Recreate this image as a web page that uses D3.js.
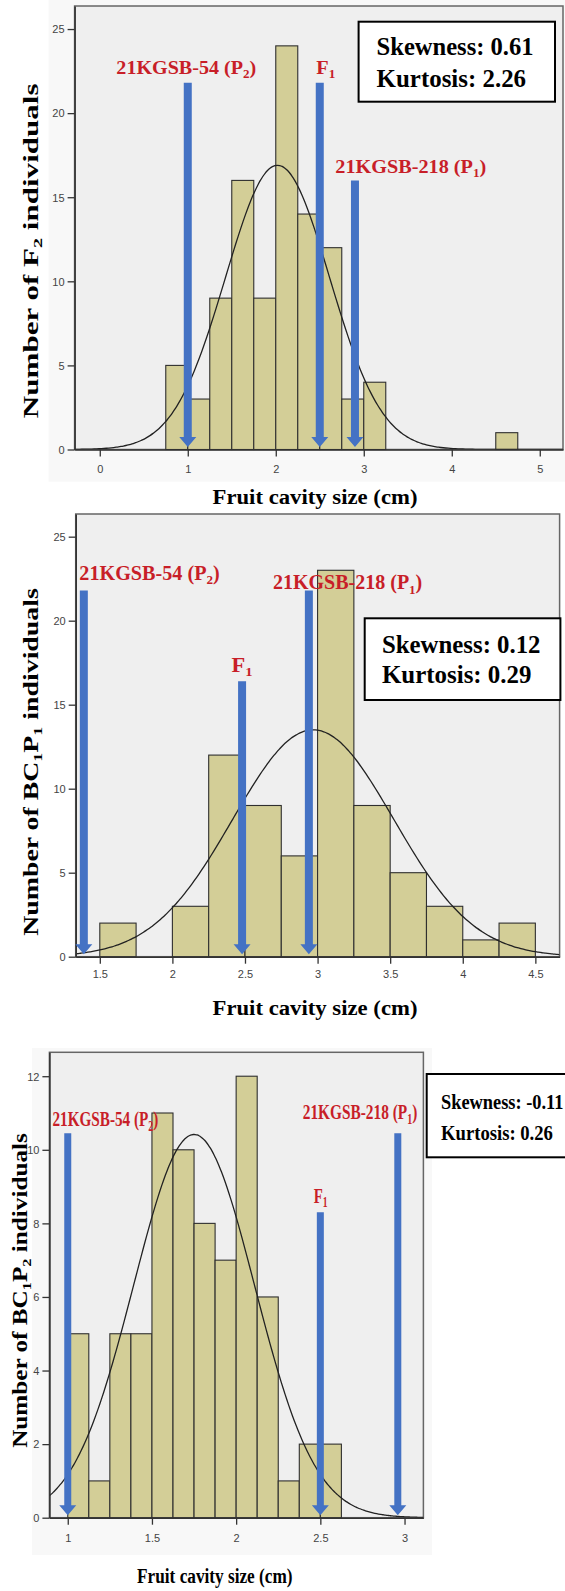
<!DOCTYPE html>
<html>
<head>
<meta charset="utf-8">
<script src="https://cdn.jsdelivr.net/npm/d3@7"></script>
<style>
  body { margin: 0; background: #fff; }
  .tick-label { font-family: "Liberation Sans", Arial, sans-serif; font-size: 11px; fill: #444; }
</style>
</head>
<body>
<div id="chart"></div>
<script>
// ---- data ----
// F2 population
var f2BinStarts = [0.75, 1.0, 1.25, 1.5, 1.75, 2.0, 2.25, 2.5, 2.75, 3.0, 4.5];
var f2Counts    = [5, 3, 9, 16, 9, 24, 14, 12, 3, 4, 1];
var f2Fit       = [2.02, 0.59];           // mean, sd of the fitted normal
var f2MarkerX   = [1.0, 2.5, 2.9];        // P2, F1, P1
var f2MarkerTop = [21.8, 21.8, 16.0];
var f2Stats     = ["Skewness: 0.61", "Kurtosis: 2.26"];
var f2XTicks    = [0, 1, 2, 3, 4, 5];
var f2YTicks    = [0, 5, 10, 15, 20, 25];

// BC1P1 population
var bc1p1BinStarts = [1.5, 2.0, 2.25, 2.5, 2.75, 3.0, 3.25, 3.5, 3.75, 4.0, 4.25];
var bc1p1Counts    = [2, 3, 12, 9, 6, 23, 9, 5, 3, 1, 2];
var bc1p1Fit       = [2.97, 0.554];
var bc1p1MarkerX   = [1.39, 2.48, 2.94];
var bc1p1MarkerTop = [21.8, 16.4, 21.8];
var bc1p1Stats     = ["Skewness: 0.12", "Kurtosis: 0.29"];
var bc1p1XTicks    = [1.5, 2, 2.5, 3, 3.5, 4, 4.5];
var bc1p1YTicks    = [0, 5, 10, 15, 20, 25];

// BC1P2 population
var bc1p2BinStarts = [1.0, 1.125, 1.25, 1.375, 1.5, 1.625, 1.75, 1.875, 2.0, 2.125, 2.25, 2.375, 2.5];
var bc1p2Counts    = [5, 1, 5, 5, 11, 10, 8, 7, 12, 6, 1, 2, 2];
var bc1p2Fit       = [1.75, 0.359];
var bc1p2MarkerX   = [1.0, 2.5, 2.96];
var bc1p2MarkerTop = [10.45, 8.3, 10.45];
var bc1p2Stats     = ["Skewness: -0.11", "Kurtosis: 0.26"];
var bc1p2XTicks    = [1, 1.5, 2, 2.5, 3];
var bc1p2YTicks    = [0, 2, 4, 6, 8, 10, 12];

var markerNames = ["21KGSB-54 (P_2)", "F_1", "21KGSB-218 (P_1)"];
var xTitle = "Fruit cavity size (cm)";

var RED = "#c81e28", BLUE = "#4472c4", BAR = "#d3ce97";
var SERIF = "'Liberation Serif', 'Times New Roman', 'DejaVu Serif', serif";

var svg = d3.select("#chart").append("svg")
    .attr("width", 565)
    .attr("height", 1591);

// draws text with "_x" as subscript, then squeezes it to the measured width
function fitText(g, str, size, x, y, width, anchor, color, rot) {
    var t = g.append("text")
        .style("font-family", SERIF)
        .attr("font-size", size)
        .attr("font-weight", "bold")
        .attr("fill", color || "#000")
        .attr("text-anchor", anchor);
    var parts = str.split(/(_.)/);
    var shifted = false;
    parts.forEach(function(p) {
        if (p === "") return;
        if (p[0] === "_") {
            t.append("tspan").attr("font-size", size * 0.65).attr("dy", size * 0.22).text(p[1]);
            shifted = true;
        } else {
            var ts = t.append("tspan").text(p);
            if (shifted) { ts.attr("dy", -size * 0.22); shifted = false; }
        }
    });
    var w = t.node().getBBox().width;
    var sx = width ? width / w : 1;
    t.attr("transform", "translate(" + x + "," + y + ")" + (rot ? " rotate(" + rot + ")" : "") + " scale(" + sx + ",1)");
    return t;
}

function drawPanel(c) {
    var g = svg.append("g");

    if (c.outer) {
        g.append("rect")
            .attr("x", c.outer[0]).attr("y", c.outer[1])
            .attr("width", c.outer[2]).attr("height", c.outer[3])
            .attr("fill", "#f8f8f8");
    }

    var x = d3.scaleLinear().domain(c.xDomain).range([c.left, c.right]);
    var y = d3.scaleLinear().domain(c.yDomain).range([c.bottom, c.top]);

    g.append("rect")
        .attr("x", c.left).attr("y", c.top)
        .attr("width", c.right - c.left).attr("height", c.bottom - c.top)
        .attr("fill", "#efefef")
        .attr("stroke", "#666")
        .attr("stroke-width", 1.5);

    var clipId = "clip" + c.id;
    g.append("clipPath").attr("id", clipId)
        .append("rect")
        .attr("x", c.left).attr("y", c.top)
        .attr("width", c.right - c.left).attr("height", c.bottom - c.top);

    // histogram bars
    g.selectAll(".bar")
        .data(c.bins.map(function(b, i) { return {x0: b, n: c.counts[i]}; }))
        .enter().append("rect")
        .attr("class", "bar")
        .attr("x", function(d) { return x(d.x0); })
        .attr("y", function(d) { return y(d.n); })
        .attr("width", function(d) { return x(d.x0 + c.binWidth) - x(d.x0); })
        .attr("height", function(d) { return y(0) - y(d.n); })
        .attr("fill", BAR)
        .attr("stroke", "#2f2f2f")
        .attr("stroke-width", 1.1);

    // fitted normal curve
    var total = d3.sum(c.counts);
    var mean = c.fit[0], sd = c.fit[1];
    var pts = d3.range(c.xDomain[0], c.xDomain[1] + 0.001, (c.xDomain[1] - c.xDomain[0]) / 200);
    var line = d3.line()
        .x(function(v) { return x(v); })
        .y(function(v) {
            var z = (v - mean) / sd;
            return y(total * c.binWidth * Math.exp(-0.5 * z * z) / (sd * Math.sqrt(2 * Math.PI)));
        })
        .curve(d3.curveBasis);
    g.append("path")
        .datum(pts)
        .attr("clip-path", "url(#" + clipId + ")")
        .attr("d", line)
        .attr("fill", "none")
        .attr("stroke", "#222")
        .attr("stroke-width", 1.3);

    // axes
    var xAxis = d3.axisBottom(x).tickValues(c.xTicks).tickSize(7).tickSizeOuter(0).tickFormat(function(d) { return String(d); });
    var yAxis = d3.axisLeft(y).tickValues(c.yTicks).tickSize(7).tickSizeOuter(0).tickFormat(function(d) { return String(d); });
    var xg = g.append("g").attr("transform", "translate(0," + c.bottom + ")").call(xAxis);
    var yg = g.append("g").attr("transform", "translate(" + c.left + ",0)").call(yAxis);
    [xg, yg].forEach(function(a) {
        a.attr("font-size", null).attr("font-family", null);
        a.select(".domain").attr("stroke", "#333").attr("stroke-width", 1.6);
        a.selectAll(".tick line").attr("stroke", "#333").attr("stroke-width", 1.3);
        a.selectAll(".tick text").attr("class", "tick-label").attr("fill", null);
    });
    xg.selectAll(".tick text").attr("dy", null).attr("y", c.xLabelDy);
    yg.selectAll(".tick text").attr("x", -10).attr("dy", "0.35em");

    // blue arrows
    var hw = c.arrowW / 2, headW = 8.5, headH = 10;
    g.selectAll(".arrow")
        .data(c.markerX.map(function(v, i) { return {x: v, top: c.markerTop[i]}; }))
        .enter().append("path")
        .attr("class", "arrow")
        .attr("d", function(d) {
            var cx = x(d.x), t = y(d.top), tip = y(0) - 2.5, hb = tip - headH;
            return "M" + (cx - hw) + "," + t + "L" + (cx + hw) + "," + t +
                "L" + (cx + hw) + "," + hb + "L" + (cx + headW) + "," + hb +
                "L" + cx + "," + tip + "L" + (cx - headW) + "," + hb +
                "L" + (cx - hw) + "," + hb + "Z";
        })
        .attr("fill", BLUE);

    // red marker labels
    markerNames.forEach(function(name, i) {
        var L = c.labels[i];
        fitText(g, name, c.labelSize, L[0], L[1], L[2], "middle", RED);
    });

    // stats box
    g.append("rect")
        .attr("x", c.box[0]).attr("y", c.box[1])
        .attr("width", c.box[2]).attr("height", c.box[3])
        .attr("fill", "#fff").attr("stroke", "#000").attr("stroke-width", 2);
    c.stats.forEach(function(s, i) {
        var S = c.statPos[i];
        fitText(g, s, c.statSize, S[0], S[1], S[2], "start");
    });

    // axis titles
    fitText(g, xTitle, 22, c.xTitle[0], c.xTitle[1], c.xTitle[2], "middle");
    fitText(g, c.yTitleText, 20, c.yTitle[0], c.yTitle[1], c.yTitle[2], "middle", "#000", -90);
}

drawPanel({
    id: 1,
    left: 74.6, right: 563, top: 6, bottom: 449.5,
    xDomain: [-0.286, 5.264], yDomain: [0, 26.37],
    bins: f2BinStarts, counts: f2Counts, binWidth: 0.25, fit: f2Fit,
    xTicks: f2XTicks, yTicks: f2YTicks, xLabelDy: 23,
    markerX: f2MarkerX, markerTop: f2MarkerTop, arrowW: 8,
    outer: [48.6, 0, 516.4, 481.7],
    labelSize: 19,
    labels: [[186.3, 74, 140], [325.8, 74, 19], [410.8, 173, 151]],
    stats: f2Stats, statSize: 26,
    box: [358.6, 21.7, 196.4, 80],
    statPos: [[376.6, 55, 157], [376.6, 86.7, 149.5]],
    xTitle: [315, 504, 205],
    yTitleText: "Number of F_2 individuals", yTitle: [38, 250.8, 335]
});

drawPanel({
    id: 2,
    left: 75.7, right: 559.6, top: 514, bottom: 956.7,
    xDomain: [1.334, 4.667], yDomain: [0, 26.35],
    bins: bc1p1BinStarts, counts: bc1p1Counts, binWidth: 0.25, fit: bc1p1Fit,
    xTicks: bc1p1XTicks, yTicks: bc1p1YTicks, xLabelDy: 21,
    markerX: bc1p1MarkerX, markerTop: bc1p1MarkerTop, arrowW: 8,
    labelSize: 20,
    labels: [[149.5, 580, 140.5], [242, 671.7, 21], [347.6, 589.3, 149.5]],
    stats: bc1p1Stats, statSize: 26,
    box: [364.7, 618.3, 195.7, 81.7],
    statPos: [[382, 653.3, 158.6], [382, 682.7, 149.5]],
    xTitle: [315, 1015, 205],
    yTitleText: "Number of BC_1P_1 individuals", yTitle: [38, 762, 348]
});

drawPanel({
    id: 3,
    left: 49.4, right: 423.4, top: 1052.3, bottom: 1517.7,
    xDomain: [0.891, 3.112], yDomain: [0, 12.65],
    bins: bc1p2BinStarts, counts: bc1p2Counts, binWidth: 0.125, fit: bc1p2Fit,
    xTicks: bc1p2XTicks, yTicks: bc1p2YTicks, xLabelDy: 24,
    markerX: bc1p2MarkerX, markerTop: bc1p2MarkerTop, arrowW: 7,
    outer: [32, 1048, 400, 507],
    labelSize: 21,
    labels: [[105.4, 1126, 106], [320.7, 1202.7, 14], [360, 1119.3, 114.6]],
    stats: bc1p2Stats, statSize: 22,
    box: [426.7, 1074, 160, 83.3],
    statPos: [[441, 1109.3, 122.5], [441, 1140, 112]],
    xTitle: [214.8, 1583, 155.7],
    yTitleText: "Number of BC_1P_2 individuals", yTitle: [27, 1290.5, 315]
});
</script>
</body>
</html>
